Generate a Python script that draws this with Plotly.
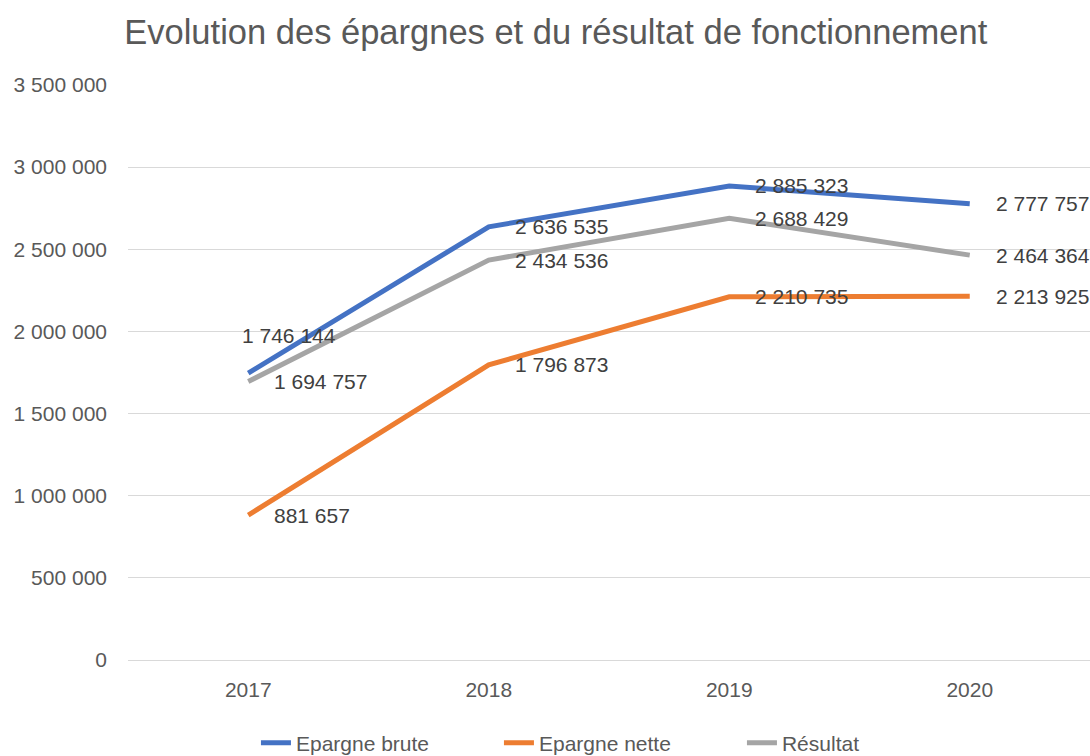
import plotly.graph_objects as go

years = ["2017", "2018", "2019", "2020"]
epargne_brute = [1746144, 2636535, 2885323, 2777757]
epargne_nette = [881657, 1796873, 2210735, 2213925]
resultat = [1694757, 2434536, 2688429, 2464364]
series_names = ["Epargne brute", "Epargne nette", "Résultat"]
colors = ["#4472C4", "#ED7D31", "#A5A5A5"]
y_ticks = [0, 500000, 1000000, 1500000, 2000000, 2500000, 3000000, 3500000]

def fmt(v):
    return f"{v:,}".replace(",", " ")

fig = go.Figure()
all_series = [epargne_brute, epargne_nette, resultat]
for name, vals, col in zip(series_names, all_series, colors):
    fig.add_trace(go.Scatter(x=years, y=vals, mode="lines", name=name,
                             line=dict(color=col, width=5), hoverinfo="skip"))

annotations = []
for si, vals in enumerate(all_series):
    for i, v in enumerate(vals):
        xs, ys = 24, 0
        if si == 0 and i == 0:
            xs, ys = -8, 38
        annotations.append(dict(x=i, y=v, xref="x", yref="y", text=fmt(v), showarrow=False,
                                xanchor="left", yanchor="middle", xshift=xs, yshift=ys,
                                font=dict(size=21, color="#404040", family="Liberation Sans")))

fig.update_layout(
    width=1090, height=756,
    margin=dict(l=128, r=0, t=85, b=96),
    paper_bgcolor="white", plot_bgcolor="white",
    title=dict(text="Evolution des épargnes et du résultat de fonctionnement",
               x=0.114, xanchor="left", y=0.958, yanchor="middle",
               font=dict(size=34.5, color="#595959", family="Liberation Sans")),
    font=dict(family="Liberation Sans", color="#595959"),
    xaxis=dict(type="category", range=[-0.5, 3.5], showgrid=False,
               tickfont=dict(size=21, color="#595959"), ticks="", showline=False,
               zeroline=False, ticklabelstandoff=15),
    yaxis=dict(range=[0, 3500000], tickvals=y_ticks, ticktext=[fmt(t) for t in y_ticks],
               showgrid=True, gridcolor="#D9D9D9", gridwidth=1,
               tickfont=dict(size=21, color="#595959"), ticks="", showline=False,
               zeroline=True, zerolinecolor="#D9D9D9", zerolinewidth=1,
               ticklabelstandoff=20),
    legend=dict(orientation="h", xref="paper", x=0.133, xanchor="left",
                yref="container", y=(756 - 743) / 756, yanchor="middle",
                font=dict(size=21, color="#595959"), entrywidth=198, entrywidthmode="pixels",
                tracegroupgap=0),
    annotations=annotations,
    showlegend=True,
)

fig.write_html("out.html", post_script="document.body.style.margin='0';",
               config={"displayModeBar": False})
